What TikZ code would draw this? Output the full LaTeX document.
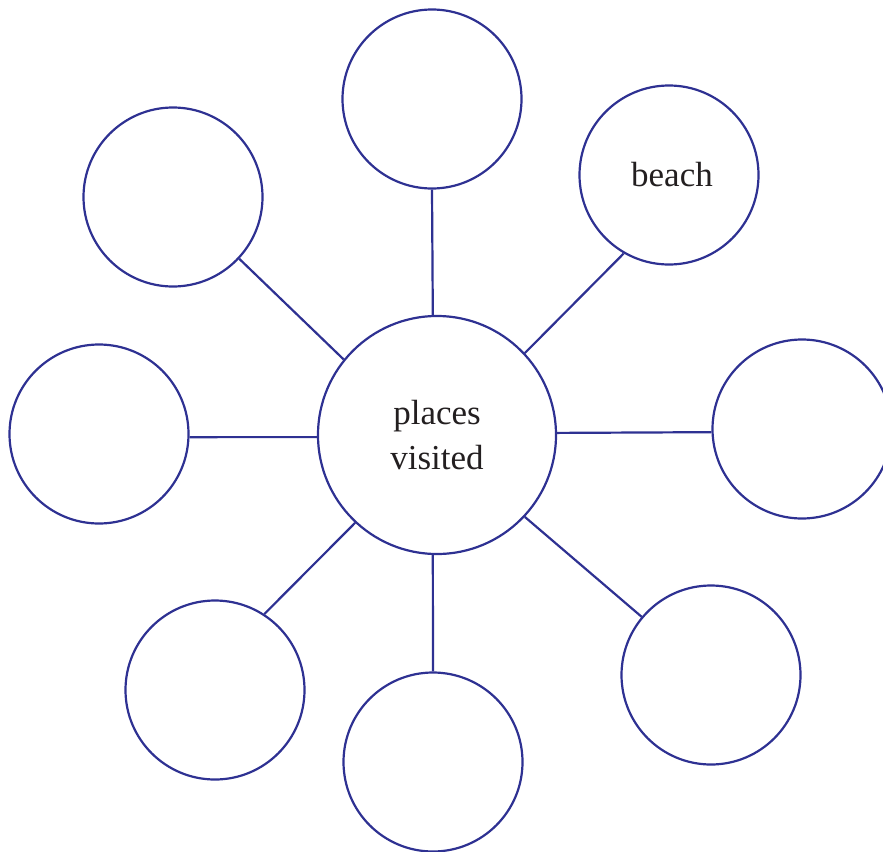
\documentclass[tikz,border=0pt]{standalone}
\usepackage{fontspec}
\setmainfont{Liberation Serif}
\usepackage{xcolor}
\usepackage{tikz}
\definecolor{ink}{RGB}{46, 49, 146}
\definecolor{txt}{RGB}{35, 31, 32}

\tikzset{
    bubble/.style={circle, draw=ink, line width=2.2pt, inner sep=0pt,
                   minimum size=179pt, text=txt,
                   font=\fontsize{35}{45}\selectfont},
    hub/.style={bubble, minimum size=238pt, align=center},
    spoke/.style={ink, line width=2.2pt},
}

\begin{document}
\begin{tikzpicture}[x=1pt, y=-1pt]

    \useasboundingbox (0,0) rectangle (883,851);

    %% Centre
    \node[hub] (hub) at (437,435) {places\\visited};

    %% Outer circles
    \node[bubble] (n)  at (432,99)  {};
    \node[bubble] (ne) at (669,175) {\hspace{6pt}beach};
    \node[bubble] (e)  at (802,429) {};
    \node[bubble] (se) at (711,675) {};
    \node[bubble] (s)  at (433,762) {};
    \node[bubble] (sw) at (215,690) {};
    \node[bubble] (w)  at (99,434)  {};
    \node[bubble] (nw) at (173,197) {};

    %% Spokes (hub angle / circle / circle angle)
    \foreach \a/\b/\c in {92/n/270, 43/ne/240, 1.5/e/182, -43/se/140,
                          -92/s/90, 227/sw/57, 181/w/-2, 141/nw/-43}
        \draw[spoke] (hub.\a) -- (\b.\c);

\end{tikzpicture}
\end{document}
